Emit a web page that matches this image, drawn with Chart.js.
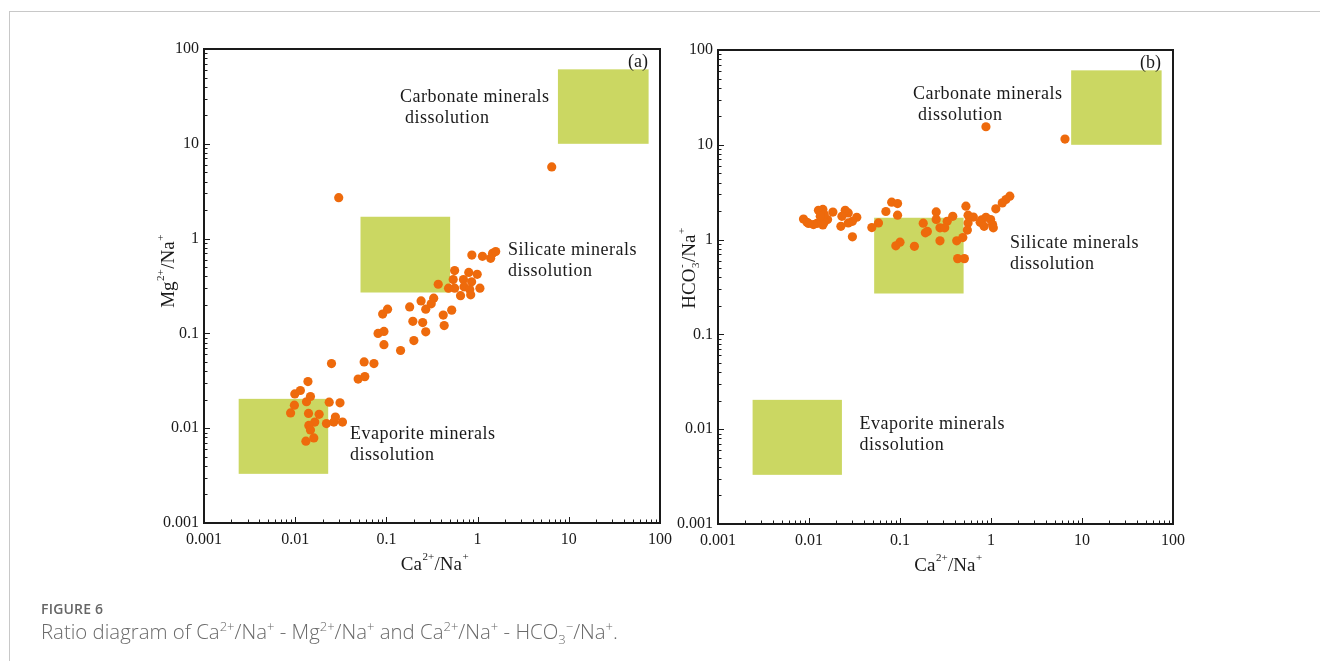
<!DOCTYPE html>
<html>
<head>
<meta charset="utf-8">
<script src="https://cdn.jsdelivr.net/npm/chart.js@4.4.1/dist/chart.umd.min.js"></script>
<style>
  html, body { margin: 0; padding: 0; background: #fff; }
  body { width: 1320px; height: 661px; position: relative; overflow: hidden; }
  .sheet { position: absolute; left: 9px; top: 11px; right: 0; bottom: 0;
           border-top: 1px solid #c8c8c8; border-left: 1px solid #c8c8c8; }
  .panel { position: absolute; top: 0; height: 600px; }
  #panelA { left: 140px; width: 540px; }
  #panelB { left: 650px; width: 670px; }
  .cap { position: absolute; left: 41px; top: 600px; font-family: "Open Sans", "Noto Sans", sans-serif; color: #666; }
  .cap .fig { font-size: 14px; font-weight: 600; letter-spacing: 0.2px; line-height: 18px; }
  .cap .txt { font-size: 20.4px; font-weight: 300; line-height: 26px; color: #6a6a6a; }
  .cap sup, .cap sub { font-size: 13px; line-height: 0; }
</style>
</head>
<body>
<div class="sheet"></div>
<div class="panel" id="panelA"><canvas id="chartA"></canvas></div>
<div class="panel" id="panelB"><canvas id="chartB"></canvas></div>
<div class="cap">
  <div class="fig">FIGURE 6</div>
  <div class="txt">Ratio diagram of Ca<sup>2+</sup>/Na<sup>+</sup> - Mg<sup>2+</sup>/Na<sup>+</sup> and Ca<sup>2+</sup>/Na<sup>+</sup> - HCO<sub>3</sub><sup>−</sup>/Na<sup>+</sup>.</div>
</div>
<script>
// tick values / labels shared by both log axes
const decadeTicks = [0.001, 0.01, 0.1, 1, 10, 100];
const decadeLabels = ['0.001', '0.01', '0.1', '1', '10', '100'];

// (a) Ca2+/Na+ vs Mg2+/Na+
const caNaA = [6.5, 0.030, 0.865, 1.13, 1.39, 1.46, 1.58, 0.56, 0.80, 0.99, 0.54, 0.70, 0.86, 0.37, 0.48, 0.56,
  0.71, 1.06, 0.82, 0.65, 0.84, 0.24, 0.33, 0.31, 0.27, 0.18, 0.52, 0.42, 0.091, 0.103, 0.195, 0.25,
  0.43, 0.081, 0.094, 0.27, 0.094, 0.20, 0.143, 0.057, 0.073, 0.025, 0.049, 0.058, 0.0138, 0.0099, 0.0114, 0.0147,
  0.0133, 0.0098, 0.0236, 0.031, 0.0089, 0.014, 0.0183, 0.0164, 0.0141, 0.0147, 0.0131, 0.016, 0.022, 0.0265, 0.0276, 0.033];
const mgNa = [5.7, 2.7, 0.67, 0.65, 0.62, 0.70, 0.73, 0.46, 0.44, 0.42, 0.37, 0.37, 0.35, 0.33, 0.30, 0.30,
  0.31, 0.30, 0.29, 0.25, 0.255, 0.22, 0.235, 0.205, 0.18, 0.19, 0.176, 0.156, 0.16, 0.18, 0.134, 0.13,
  0.121, 0.10, 0.105, 0.104, 0.076, 0.084, 0.066, 0.050, 0.048, 0.048, 0.033, 0.035, 0.031, 0.023, 0.025, 0.0216,
  0.019, 0.0175, 0.0188, 0.0185, 0.0145, 0.0143, 0.014, 0.0116, 0.0107, 0.0096, 0.0073, 0.0079, 0.0112, 0.0116, 0.0131, 0.0116];

// (b) Ca2+/Na+ vs HCO3-/Na+
const caNaB = [0.88, 6.5, 1.61, 1.46, 1.33, 1.13, 0.081, 0.094, 0.070, 0.094, 0.53, 0.25, 0.38, 0.56, 0.64, 0.79,
  0.88, 0.99, 0.76, 1.04, 0.84, 1.06, 0.56, 0.55, 0.25, 0.33, 0.275, 0.31, 0.18, 0.20, 0.19, 0.275,
  0.42, 0.49, 0.43, 0.51, 0.10, 0.09, 0.144, 0.058, 0.049, 0.030, 0.0335, 0.030, 0.027, 0.027, 0.025, 0.023,
  0.0224, 0.0183, 0.016, 0.0142, 0.0127, 0.0147, 0.0147, 0.0142, 0.0122, 0.0112, 0.0099, 0.0087, 0.0095, 0.0133];
const hco3Na = [15.5, 11.5, 2.87, 2.65, 2.44, 2.11, 2.48, 2.40, 1.98, 1.81, 2.25, 1.96, 1.76, 1.81, 1.73, 1.62,
  1.72, 1.63, 1.52, 1.44, 1.38, 1.33, 1.50, 1.26, 1.63, 1.56, 1.33, 1.33, 1.49, 1.22, 1.18, 0.97,
  0.97, 1.05, 0.63, 0.63, 0.94, 0.86, 0.85, 1.50, 1.34, 1.07, 1.72, 1.56, 1.50, 1.91, 2.04, 1.76,
  1.38, 1.95, 1.63, 2.08, 2.04, 1.84, 1.52, 1.43, 1.48, 1.44, 1.48, 1.65, 1.52, 1.76];

// dissolution fields (same ranges in both diagrams)
const fieldNames = ['Evaporite', 'Silicate', 'Carbonate'];
const fieldCa = [[0.0024, 0.023], [0.052, 0.5], [7.6, 75]];
const fieldY = [[0.0033, 0.0204], [0.27, 1.7], [10, 61]];

// note anchors (data space, left edge / middle of first line)
const notesA = [
  { x: 0.040, y: 0.0087, lines: ['Evaporite minerals', 'dissolution'] },
  { x: 2.15, y: 0.76, lines: ['Silicate minerals', 'dissolution'] },
  { x: 0.141, y: 31.2, lines: ['Carbonate minerals', ' dissolution'] }
];
const notesB = [
  { x: 0.036, y: 0.0114, lines: ['Evaporite minerals', 'dissolution'] },
  { x: 1.62, y: 0.92, lines: ['Silicate minerals', 'dissolution'] },
  { x: 0.139, y: 34.3, lines: ['Carbonate minerals', ' dissolution'] }
];

const SERIF = '"Liberation Serif", "Times New Roman", serif';
const INK = '#1a1a1a';

Chart.defaults.font.family = SERIF;
Chart.defaults.font.size = 16;
Chart.defaults.color = INK;

function toPoints(xs, ys) {
  return xs.map((v, i) => ({ x: v, y: ys[i] }));
}

// text with raised / lowered pieces, e.g. Ca2+/Na+
function richWidth(ctx, parts, size) {
  let w = 0;
  parts.forEach(p => {
    if (p.t) { ctx.font = size + 'px ' + SERIF; w += ctx.measureText(p.t).width; }
    else {
      ctx.font = Math.round(size * 0.6) + 'px ' + SERIF;
      w += Math.max(ctx.measureText(p.sup || '').width, ctx.measureText(p.sub || '').width) + 1;
    }
  });
  return w;
}
function drawRich(ctx, parts, cx, cy, size) {
  let x = cx - richWidth(ctx, parts, size) / 2;
  ctx.textBaseline = 'middle';
  ctx.textAlign = 'left';
  parts.forEach(p => {
    if (p.t) {
      ctx.font = size + 'px ' + SERIF;
      ctx.fillText(p.t, x, cy);
      x += ctx.measureText(p.t).width;
    } else {
      ctx.font = Math.round(size * 0.6) + 'px ' + SERIF;
      let w = 0;
      if (p.sup) { ctx.fillText(p.sup, x + 0.5, cy - size * 0.42); w = ctx.measureText(p.sup).width; }
      if (p.sub) { ctx.fillText(p.sub, x + 0.5, cy + size * 0.32); w = Math.max(w, ctx.measureText(p.sub).width); }
      x += w + 1;
    }
  });
}

const caTitle = [{ t: 'Ca' }, { sup: '2+' }, { t: '/Na' }, { sup: '+' }];

// fields under the points, frame / inward ticks / notes on top
const ratioDecor = {
  id: 'ratioDecor',
  beforeDatasetsDraw(chart, args, opts) {
    const { ctx, scales: { x, y } } = chart;
    ctx.save();
    ctx.fillStyle = '#cbd762';
    fieldNames.forEach((name, i) => {
      const x0 = x.getPixelForValue(fieldCa[i][0]), x1 = x.getPixelForValue(fieldCa[i][1]);
      const y0 = y.getPixelForValue(fieldY[i][0]), y1 = y.getPixelForValue(fieldY[i][1]);
      ctx.fillRect(x0, y1, x1 - x0, y0 - y1);
    });
    ctx.restore();
  },
  afterDraw(chart, args, opts) {
    const { ctx, chartArea: a, scales: { x, y } } = chart;
    ctx.save();
    ctx.strokeStyle = INK;
    ctx.fillStyle = INK;

    // minor/major ticks pointing into the plot
    ctx.lineWidth = 1;
    ctx.beginPath();
    for (let d = -3; d <= 2; d++) {
      for (let m = 1; m <= 9; m++) {
        if (d === 2 && m > 1) break;
        const v = m * Math.pow(10, d);
        const len = m === 1 ? 6 : 3.5;
        const px = Math.round(x.getPixelForValue(v)) + 0.5;
        ctx.moveTo(px, a.bottom);
        ctx.lineTo(px, a.bottom - len);
        const py = Math.round(y.getPixelForValue(v)) + 0.5;
        ctx.moveTo(a.left, py);
        ctx.lineTo(a.left + len, py);
      }
    }
    ctx.stroke();

    ctx.lineWidth = 2;
    ctx.strokeRect(a.left, a.top, a.right - a.left, a.bottom - a.top);

    // field notes
    ctx.font = '18px ' + SERIF;
    ctx.textAlign = 'left';
    ctx.textBaseline = 'middle';
    if ('letterSpacing' in ctx) ctx.letterSpacing = '0.5px';
    opts.notes.forEach(n => {
      const nx = x.getPixelForValue(n.x), ny = y.getPixelForValue(n.y);
      n.lines.forEach((line, k) => ctx.fillText(line, nx, ny + k * 21));
    });
    if ('letterSpacing' in ctx) ctx.letterSpacing = '0px';

    // panel tag
    ctx.font = '18px ' + SERIF;
    ctx.textAlign = 'right';
    ctx.fillText(opts.tag, a.right - 12, a.top + 13);

    // axis titles
    drawRich(ctx, caTitle, (a.left + a.right) / 2 + 3, a.bottom + 42, 19);
    ctx.translate(a.left - opts.yTitleGap, (a.top + a.bottom) / 2 + opts.yTitleShift);
    ctx.rotate(-Math.PI / 2);
    drawRich(ctx, opts.yTitle, 0, 0, 19);
    ctx.restore();
  }
};

function logAxis(pos, size) {
  return {
    type: 'logarithmic',
    position: pos,
    min: 0.001,
    max: 100,
    grid: { display: false, drawTicks: false },
    border: { display: false },
    afterBuildTicks(scale) {
      scale.ticks = decadeTicks.map(v => ({ value: v }));
    },
    afterFit(scale) {
      if (pos === 'left') scale.width = size; else scale.height = size;
    },
    ticks: {
      autoSkip: false,
      maxRotation: 0,
      padding: pos === 'left' ? 5 : 7,
      color: INK,
      font: { family: SERIF, size: 16 },
      callback: (v, i) => decadeLabels[i]
    }
  };
}

function makeChart(id, xs, ys, opts) {
  return new Chart(document.getElementById(id), {
    type: 'scatter',
    data: {
      datasets: [{
        data: toPoints(xs, ys),
        backgroundColor: '#ee6a0c',
        borderWidth: 0,
        pointRadius: 4.6,
        pointHoverRadius: 4.6
      }]
    },
    options: {
      responsive: true,
      maintainAspectRatio: false,
      animation: false,
      events: [],
      layout: { padding: opts.padding },
      scales: {
        x: logAxis('bottom', opts.xHeight),
        y: logAxis('left', opts.yWidth)
      },
      plugins: {
        legend: { display: false },
        tooltip: { enabled: false },
        ratioDecor: {
          notes: opts.notes, tag: opts.tag, yTitle: opts.yTitle,
          yTitleGap: opts.yTitleGap, yTitleShift: opts.yTitleShift
        }
      }
    },
    plugins: [ratioDecor]
  });
}

makeChart('chartA', caNaA, mgNa, {
  padding: { left: 0, top: 49, right: 20, bottom: 0 },
  yWidth: 64, xHeight: 77,
  notes: notesA, tag: '(a)',
  yTitle: [{ t: 'Mg' }, { sup: '2+' }, { t: '/Na' }, { sup: '+' }],
  yTitleGap: 35, yTitleShift: -15
});

makeChart('chartB', caNaB, hco3Na, {
  padding: { left: 0, top: 50, right: 147, bottom: 0 },
  yWidth: 68, xHeight: 76,
  notes: notesB, tag: '(b)',
  yTitle: [{ t: 'HCO' }, { sub: '3', sup: '-' }, { t: '/Na' }, { sup: '+' }],
  yTitleGap: 28, yTitleShift: -19
});
</script>
</body>
</html>
